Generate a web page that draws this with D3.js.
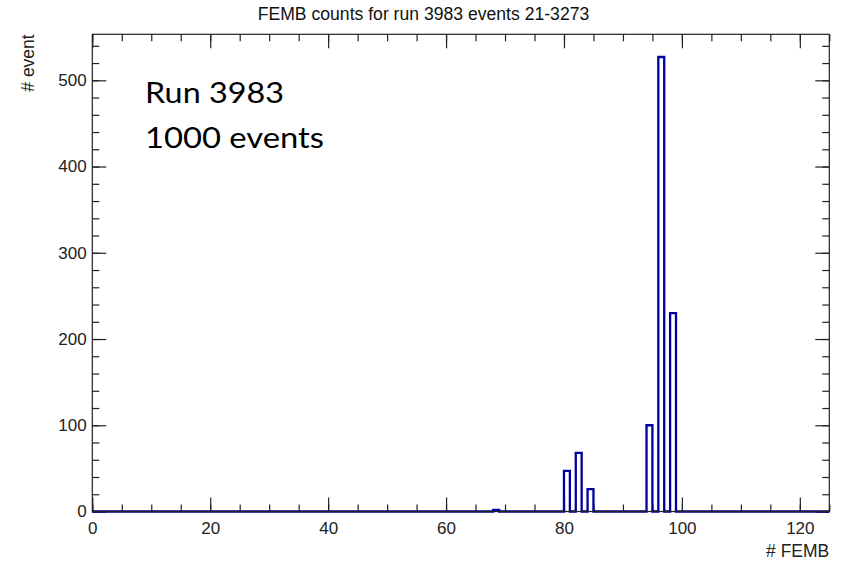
<!DOCTYPE html>
<html><head><meta charset="utf-8">
<script src="https://cdn.jsdelivr.net/npm/d3@7"></script>
<style>body{margin:0;background:#fff}svg{display:block}</style>
</head><body>
<svg id="c" width="844" height="563"></svg>
<script>
// ---- data ----
const title = "FEMB counts for run 3983 events 21-3273";
const xTitle = "# FEMB";
const yTitle = "# event";
const noteLines = ["Run 3983", "1000 events"];
const binLow = 0, binHigh = 125;          // histogram range, 1 FEMB per bin
const filledBins = [68, 80, 82, 84, 94, 96, 98];   // left edge of non-empty bins
const binCounts  = [2, 47, 68, 26, 100, 527, 230];
const xMajorTicks = [0, 20, 40, 60, 80, 100, 120];
const yMajorTicks = [0, 100, 200, 300, 400, 500];

// ---- layout ----
const L = 92.3, R = 829.3, T = 34.3, B = 511.5;
const svg = d3.select("#c");
const maxCount = d3.max(binCounts);
const x = d3.scaleLinear().domain([binLow, binHigh]).range([L, R]);
const y = d3.scaleLinear().domain([0, maxCount * 1.05]).range([B, T]);

const xMinor = d3.range(binLow, binHigh + 0.001, 5);
const yMinor = d3.range(0, maxCount * 1.05, 20);

const font = "'Liberation Sans', Arial, Helvetica, sans-serif";
const axColor = "#222";

function styleAxis(g){
  g.select(".domain").remove();
  g.selectAll(".tick line").attr("stroke", axColor).attr("stroke-width", 1.2);
  g.selectAll("text").attr("fill", axColor).style("font-family", font).style("font-size", "17px");
}
// bottom
svg.append("g").attr("transform", `translate(0,${B})`)
  .call(d3.axisBottom(x).tickValues(xMinor).tickSize(-7).tickFormat("")).call(styleAxis);
svg.append("g").attr("transform", `translate(0,${B})`)
  .call(d3.axisBottom(x).tickValues(xMajorTicks).tickSize(-14).tickPadding(10.5).tickFormat(d3.format("d"))).call(styleAxis);
// top
svg.append("g").attr("transform", `translate(0,${T})`)
  .call(d3.axisTop(x).tickValues(xMinor).tickSize(-7).tickFormat("")).call(styleAxis);
svg.append("g").attr("transform", `translate(0,${T})`)
  .call(d3.axisTop(x).tickValues(xMajorTicks).tickSize(-14).tickFormat("")).call(styleAxis);
// left
svg.append("g").attr("transform", `translate(${L},0)`)
  .call(d3.axisLeft(y).tickValues(yMinor).tickSize(-7).tickFormat("")).call(styleAxis);
svg.append("g").attr("transform", `translate(${L},0)`)
  .call(d3.axisLeft(y).tickValues(yMajorTicks).tickSize(-14).tickPadding(5.6).tickFormat(d3.format("d"))).call(styleAxis);
// right
svg.append("g").attr("transform", `translate(${R},0)`)
  .call(d3.axisRight(y).tickValues(yMinor).tickSize(-7).tickFormat("")).call(styleAxis);
svg.append("g").attr("transform", `translate(${R},0)`)
  .call(d3.axisRight(y).tickValues(yMajorTicks).tickSize(-14).tickFormat("")).call(styleAxis);

// histogram outline (step)
const bins = d3.range(binLow, binHigh).map(b => {
  const i = filledBins.indexOf(b);
  return {x0: b, c: i >= 0 ? binCounts[i] : 0};
});
const pts = [];
bins.forEach(b => { pts.push([b.x0, b.c]); pts.push([b.x0 + 1, b.c]); });
const line = d3.line().x(d => x(d[0])).y(d => y(d[1]));
svg.append("path").attr("d", line([[binLow, 0], ...pts, [binHigh, 0]]))
  .attr("fill", "none").attr("stroke", "#00009e").attr("stroke-width", 2.3)
  .attr("stroke-linejoin", "miter");

// frame
svg.append("rect").attr("x", L).attr("y", T).attr("width", R - L).attr("height", B - T)
  .attr("fill", "none").attr("stroke", axColor).attr("stroke-width", 1.2);

// titles
svg.append("text").attr("x", 423.5).attr("y", 20).attr("text-anchor", "middle")
  .style("font-family", font).style("font-size", "17.6px").attr("fill", "#111").text(title);
svg.append("text").attr("x", R).attr("y", 557).attr("text-anchor", "end")
  .style("font-family", font).style("font-size", "17.5px").attr("fill", axColor).text(xTitle);
svg.append("text").attr("transform", `translate(33.5,${T}) rotate(-90)`).attr("text-anchor", "end")
  .style("font-family", font).style("font-size", "17.5px").attr("fill", axColor).text(yTitle);

// annotation
const noteWidths = [139, 179];
svg.append("g").selectAll("text").data(noteLines).join("text")
  .attr("x", 145).attr("y", (d, i) => 103 + i * 44.6)
  .attr("textLength", (d, i) => noteWidths[i]).attr("lengthAdjust", "spacingAndGlyphs")
  .style("font-family", "Lato, 'Open Sans', sans-serif").style("font-size", "28.5px")
  .attr("fill", "#000").text(d => d);
</script>
</body></html>
